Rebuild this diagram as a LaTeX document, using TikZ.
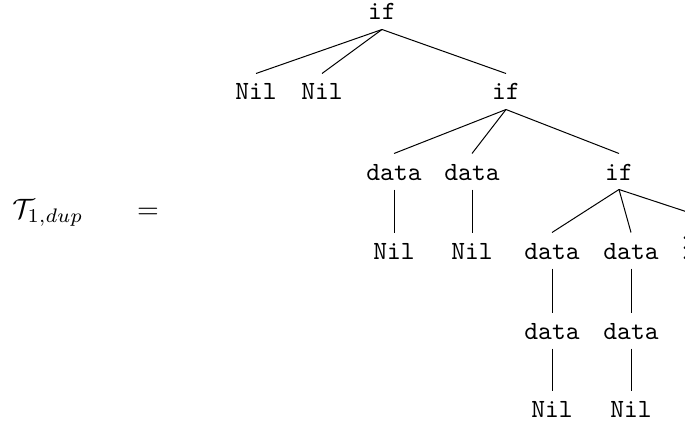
\documentclass[tikz,border=0pt]{standalone}
\usepackage{fix-cm}
\begin{document}
\begin{tikzpicture}[x=0.4pt,y=-0.4pt,
  lbl/.style={font=\fontsize{10.5}{12.5}\selectfont\ttfamily, anchor=base, inner sep=0pt, text height=10.4pt, text depth=3.6pt},
  mathlbl/.style={font=\fontsize{11.2}{13.5}\selectfont, inner sep=0pt},
  edge/.style={line width=0.4pt}]
\useasboundingbox (0,0) rectangle (685,426);
\clip (0,0) rectangle (685,426);
% left-hand side
\node[mathlbl, anchor=base west] (lhs) at (12,218) {$\mathcal{T}_{1,dup}$};
\node[mathlbl, anchor=base] (eq) at (148,218) {$=$};
% tree
\node[lbl] (r) at (382,20) {if};
\node[lbl] (a1) at (256,100) {Nil};
\node[lbl] (a2) at (322,100) {Nil};
\node[lbl] (b) at (506,100) {if};
\node[lbl] (c1) at (394,180) {data};
\node[lbl] (c2) at (472,180) {data};
\node[lbl] (d) at (619,180) {if};
\node[lbl] (e1) at (394,259) {Nil};
\node[lbl] (e2) at (472,259) {Nil};
\node[lbl] (f1) at (552,259) {data};
\node[lbl] (f2) at (631,259) {data};
\node[anchor=base west, inner sep=0pt] (dots) at (681,259) {$\vdots$};
\coordinate (f3) at (751,233);
\node[lbl] (g1) at (552,339) {data};
\node[lbl] (g2) at (631,339) {data};
\node[lbl] (h1) at (552,417) {Nil};
\node[lbl] (h2) at (631,417) {Nil};
% connectors
\draw[edge] (r.south) -- (a1.north);
\draw[edge] (r.south) -- (a2.north);
\draw[edge] (r.south) -- (b.north);
\draw[edge] (b.south) -- (c1.north);
\draw[edge] (b.south) -- (c2.north);
\draw[edge] (b.south) -- (d.north);
\draw[edge] (c1.south) -- (e1.north);
\draw[edge] (c2.south) -- (e2.north);
\draw[edge] (d.south) -- (f1.north);
\draw[edge] (d.south) -- (f2.north);
\draw[edge] (d.south) -- (f3);
\draw[edge] (f1.south) -- (g1.north);
\draw[edge] (f2.south) -- (g2.north);
\draw[edge] (g1.south) -- (h1.north);
\draw[edge] (g2.south) -- (h2.north);
\end{tikzpicture}
\end{document}
